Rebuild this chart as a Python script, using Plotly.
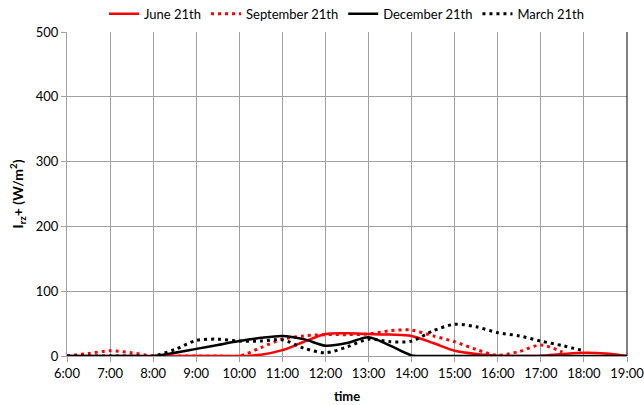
import plotly.graph_objects as go

# Half-hourly sample times (hours of the day)
t_full = [6 + 0.5 * i for i in range(27)]  # 6:00 .. 19:00

june = [0, 0, 0, 0, 0, 0, 0, 0, 0,
        2, 9, 22, 34, 35, 34, 33, 31, 20, 8, 3, 0.5, 0, 0.5, 3, 5, 4, 0]

sept_t = [6 + 0.5 * i for i in range(24)]  # 6:00 .. 17:30
sept = [0, 4, 8, 5, 0, 0, 0, 0, 0, 13, 26, 31, 33, 33, 34, 39, 40, 31, 22, 10, 1, 7, 17, 6]

dec = [0, 0, 0, 0, 0, 5, 11, 17, 23, 28, 31, 26, 16, 20, 29, 16, 1, 0, 0, 0, 0, 0, 0, 0, 0, 0, 0]

march_t = [6 + 0.5 * i for i in range(25)]  # 6:00 .. 18:00
march = [0, 0, 0, 0, 0, 10, 24, 26, 23, 23, 25, 12, 5, 14, 26, 22, 23, 39, 49, 45, 36, 31, 23, 16, 8]

tick_hours = list(range(6, 20))
tick_labels = [f"{h}:00" for h in tick_hours]

RED = "#ff0000"
BLACK = "#000000"
GRID = "#a0a0a0"

fig = go.Figure()
fig.add_trace(go.Scatter(x=t_full, y=june, mode="lines", name="June 21th",
                         line=dict(color=RED, width=2.5, shape="spline", smoothing=0.8)))
fig.add_trace(go.Scatter(x=sept_t, y=sept, mode="lines", name="September 21th",
                         line=dict(color=RED, width=3, dash="3px,4px", shape="spline", smoothing=0.8)))
fig.add_trace(go.Scatter(x=t_full, y=dec, mode="lines", name="December 21th",
                         line=dict(color=BLACK, width=2.5, shape="spline", smoothing=0.8)))
fig.add_trace(go.Scatter(x=march_t, y=march, mode="lines", name="March 21th",
                         line=dict(color=BLACK, width=3, dash="3px,4px", shape="spline", smoothing=0.8)))

font = dict(family="Lato, 'Noto Sans', sans-serif", size=13, color="#000000")

fig.update_layout(
    width=644, height=405,
    margin=dict(l=67, r=17, t=32, b=49, autoexpand=False),
    paper_bgcolor="white", plot_bgcolor="white",
    font=font,
    showlegend=True,
    legend=dict(orientation="h", x=0.5, xanchor="center", y=1.01, yanchor="bottom",
                font=dict(size=13), itemwidth=30, tracegroupgap=0,
                bgcolor="rgba(0,0,0,0)"),
    xaxis=dict(range=[6, 19], tickvals=tick_hours, ticktext=tick_labels,
               showgrid=True, gridcolor=GRID, gridwidth=1,
               showline=True, linecolor=GRID, linewidth=1,
               ticks="outside", ticklen=5, tickcolor=GRID,
               zeroline=False, mirror=False, automargin=False,
               ticklabeloverflow="allow",
               title=dict(text="<b>time</b>", standoff=12, font=dict(size=13))),
    yaxis=dict(range=[0, 500], tickvals=[0, 100, 200, 300, 400, 500],
               showgrid=True, gridcolor=GRID, gridwidth=1,
               showline=True, linecolor=GRID, linewidth=1,
               ticks="outside", ticklen=5, tickcolor=GRID,
               zeroline=False, automargin=False,
               title=dict(text="<b>I<sub>rz</sub>+ (W/m<sup>2</sup>)</b>", standoff=8,
                          font=dict(size=14))),
)

# Plot-area frame on the right-hand side
fig.add_shape(type="line", xref="paper", yref="paper", x0=1, x1=1, y0=0, y1=1,
              line=dict(color=BLACK, width=1))

fig.write_html("out.html")
